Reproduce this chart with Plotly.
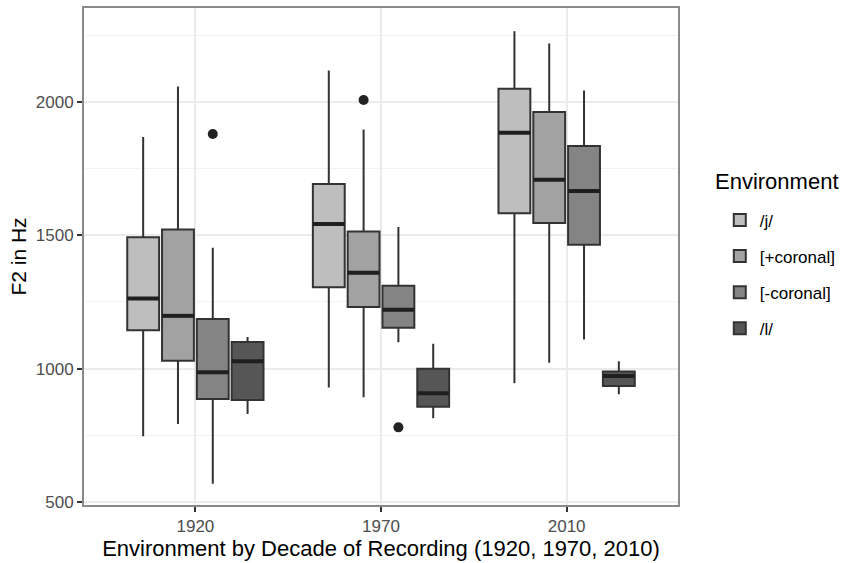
import plotly.graph_objects as go

decades = ["1920", "1970", "2010"]
environments = ["/j/", "[+coronal]", "[-coronal]", "/l/"]

# per environment, values for 1920, 1970, 2010
whisker_low = [[747, 929, 945], [793, 893, 1022], [569, 1099, 1109], [830, 814, 904]]
q1 = [[1144, 1305, 1583], [1030, 1231, 1546], [886, 1153, 1465], [883, 857, 935]]
median = [[1263, 1542, 1884], [1198, 1360, 1708], [987, 1221, 1666], [1028, 908, 973]]
q3 = [[1493, 1692, 2049], [1522, 1514, 1962], [1186, 1311, 1835], [1100, 1000, 989]]
whisker_high = [[1868, 2118, 2265], [2058, 1897, 2219], [1453, 1531, 2043], [1119, 1093, 1028]]

# outliers: (environment index, decade index, value)
outlier_env = [2, 1, 2]
outlier_decade = [0, 1, 1]
outlier_value = [1880, 2007, 780]

fills = ["#BEBEBE", "#A2A2A2", "#848484", "#565656"]
outline = "#333333"
FONT = "Liberation Sans, Arial, sans-serif"

slot = 0.75 / len(environments)
box_w = slot * 0.915


def pos(env_i, dec_i):
    return dec_i + (env_i - (len(environments) - 1) / 2) * slot


fig = go.Figure()
for e, name in enumerate(environments):
    xs = [pos(e, d) for d in range(len(decades))]
    fig.add_trace(go.Box(
        name=name,
        x=xs,
        q1=q1[e], median=median[e], q3=q3[e],
        lowerfence=whisker_low[e], upperfence=whisker_high[e],
        width=box_w,
        fillcolor=fills[e],
        line=dict(color=outline, width=2),
        whiskerwidth=0,
        boxpoints=False,
        legendgroup=name,
        hoverinfo="skip",
    ))
    # thicker median line (ggplot style)
    mx, my = [], []
    for d in range(len(decades)):
        c = pos(e, d)
        mx += [c - box_w / 2, c + box_w / 2, None]
        my += [median[e][d], median[e][d], None]
    fig.add_trace(go.Scatter(
        x=mx, y=my, mode="lines",
        line=dict(color="#1f1f1f", width=4),
        showlegend=False, legendgroup=name, hoverinfo="skip",
    ))

fig.add_trace(go.Scatter(
    x=[pos(e, d) for e, d in zip(outlier_env, outlier_decade)],
    y=outlier_value,
    mode="markers",
    marker=dict(color="#222222", size=10),
    showlegend=False, hoverinfo="skip",
))

fig.add_annotation(
    text="Environment", xref="paper", yref="paper",
    x=(716 - 84) / 597, xanchor="left",
    y=(507 - 181) / 501, yanchor="middle",
    showarrow=False, font=dict(size=22, color="#000000"),
)

fig.update_layout(
    width=847, height=563,
    margin=dict(l=84, r=166, t=6, b=56),
    paper_bgcolor="white",
    plot_bgcolor="white",
    boxmode="overlay",
    font=dict(family=FONT, color="#000000"),
    showlegend=True,
    legend=dict(
        font=dict(size=17, color="#000000"),
        x=(723 - 84) / 597, xanchor="left",
        y=(507 - 202) / 501, yanchor="top",
        tracegroupgap=11,
        bgcolor="rgba(0,0,0,0)",
    ),
    xaxis=dict(
        range=[-0.6, 2.6],
        tickmode="array",
        tickvals=list(range(len(decades))),
        ticktext=decades,
        showgrid=True, gridcolor="#EBEBEB", gridwidth=1.5,
        zeroline=False,
        showline=True, linecolor="#8A8A8A", linewidth=2, mirror=True,
        ticks="outside", ticklen=5, tickcolor="#333333", tickwidth=1.5,
        tickfont=dict(size=17, color="#4D4D4D"),
        title=dict(text="Environment by Decade of Recording (1920, 1970, 2010)",
                   font=dict(size=22, color="#000000"), standoff=5),
    ),
    yaxis=dict(
        range=[489, 2352],
        tickmode="array",
        tickvals=[500, 1000, 1500, 2000],
        showgrid=True, gridcolor="#EBEBEB", gridwidth=1.5,
        minor=dict(tickvals=[750, 1250, 1750, 2250], showgrid=True,
                   gridcolor="#F2F2F2", gridwidth=1, ticks=""),
        zeroline=False,
        showline=True, linecolor="#8A8A8A", linewidth=2, mirror=True,
        ticks="outside", ticklen=5, tickcolor="#333333", tickwidth=1.5,
        tickfont=dict(size=17, color="#4D4D4D"),
        title=dict(text="F2 in Hz", font=dict(size=21, color="#000000"), standoff=3),
    ),
)

fig.write_html("out.html", config={"displayModeBar": False},
               post_script="document.body.style.margin='0';")
